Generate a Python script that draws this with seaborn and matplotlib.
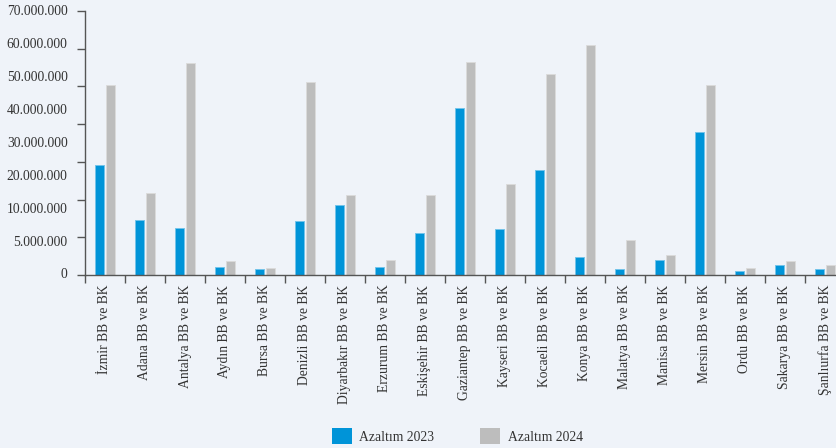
import matplotlib
matplotlib.use("Agg")
import matplotlib.pyplot as plt
import seaborn as sns
import pandas as pd
import numpy as np

# Municipalities (Büyükşehir Belediyesi ve Bağlı Kuruluşlar)
cities = ["İzmir", "Adana", "Antalya", "Aydın", "Bursa", "Denizli", "Diyarbakır",
          "Erzurum", "Eskişehir", "Gaziantep", "Kayseri", "Kocaeli", "Konya",
          "Malatya", "Manisa", "Mersin", "Ordu", "Sakarya", "Şanlıurfa"]
categories = [c + " BB ve BK" for c in cities]

# Reduction amounts per year
azaltim_2023 = [29.2e6, 14.6e6, 12.5e6, 2.2e6, 1.5e6, 14.2e6, 18.5e6, 2.2e6, 11.1e6,
                44.4e6, 12.1e6, 27.8e6, 4.7e6, 1.5e6, 4.0e6, 38.0e6, 1.1e6, 2.6e6, 1.5e6]
azaltim_2024 = [50.4e6, 21.7e6, 56.1e6, 3.6e6, 1.9e6, 51.1e6, 21.3e6, 4.0e6, 21.3e6,
                56.4e6, 24.1e6, 53.3e6, 61.0e6, 9.3e6, 5.4e6, 50.4e6, 1.9e6, 3.6e6, 2.6e6]
series_names = ["Azaltım 2023", "Azaltım 2024"]

# Axis label texts, evenly spaced along the value axis
y_labels = ["0", "5.000.000", "10.000.000", "20.000.000", "30.000.000",
            "40.000.000", "50.000.000", "60.000.000", "70.000.000"]

BG = "#EFF3F9"
BLUE = "#0094D8"
GRAY = "#BDBDBD"
AXIS = "#555555"
TEXT = "#333333"

sns.set_theme(style="white")
plt.rcParams["font.family"] = ["Liberation Serif", "DejaVu Serif"]

df = pd.DataFrame({
    "kategori": categories * 2,
    "deger": azaltim_2023 + azaltim_2024,
    "seri": [series_names[0]] * len(categories) + [series_names[1]] * len(categories),
})

fig = plt.figure(figsize=(8.36, 4.48), dpi=100, facecolor=BG)
ax = fig.add_axes([85 / 836, 1 - 275 / 448, 760 / 836, 264 / 448])
ax.set_facecolor(BG)

sns.barplot(data=df, x="kategori", y="deger", hue="seri", order=categories,
            hue_order=series_names, palette=[BLUE, GRAY], width=0.52, gap=0.12,
            saturation=1, ax=ax)

# light outline on the bars
for patch in ax.patches:
    fc = patch.get_facecolor()
    lighter = tuple(min(1, c + (1 - c) * 0.45) for c in fc[:3])
    patch.set_edgecolor(lighter)
    patch.set_linewidth(0.7)

ax.set_xlim(-0.5, len(categories) - 0.5)
ax.set_ylim(0, 70e6)
ax.set_xlabel("")
ax.set_ylabel("")

for side in ["top", "right"]:
    ax.spines[side].set_visible(False)
for side in ["left", "bottom"]:
    ax.spines[side].set_color(AXIS)
    ax.spines[side].set_linewidth(1.0)

# y tick marks every 10 million, texts placed separately
ax.set_yticks(np.arange(0, 70e6 + 1, 10e6))
ax.set_yticklabels([])
ax.tick_params(axis="y", which="major", direction="out", length=5.5, width=1.0,
               color=AXIS, left=True)
for i, lab in enumerate(y_labels):
    ax.annotate(lab, xy=(0, i / (len(y_labels) - 1)), xycoords="axes fraction",
                xytext=(-12.5, 0), textcoords="offset points", ha="right",
                va="center", fontsize=9.8, color=TEXT)

# category labels and boundary ticks
ax.set_xticks(range(len(categories)))
ax.set_xticklabels(categories, rotation=90, fontsize=9.8, color=TEXT)
ax.set_xticks(np.arange(-0.5, len(categories), 1.0), minor=True)
ax.tick_params(axis="x", which="major", length=0, pad=7)
ax.tick_params(axis="x", which="minor", direction="out", length=5.5, width=1.0,
               color=AXIS, bottom=True)

handles, labels = ax.get_legend_handles_labels()
ax.legend(handles, labels, loc="center", bbox_to_anchor=(0.49, -0.61), ncol=2,
          frameon=False, fontsize=9.8, handlelength=1.45, handleheight=1.45,
          handletextpad=0.55, columnspacing=3.4, labelcolor=TEXT)
for h in ax.get_legend().legend_handles:
    h.set_edgecolor("none")

fig.savefig("out.png", dpi=100, facecolor=BG)
